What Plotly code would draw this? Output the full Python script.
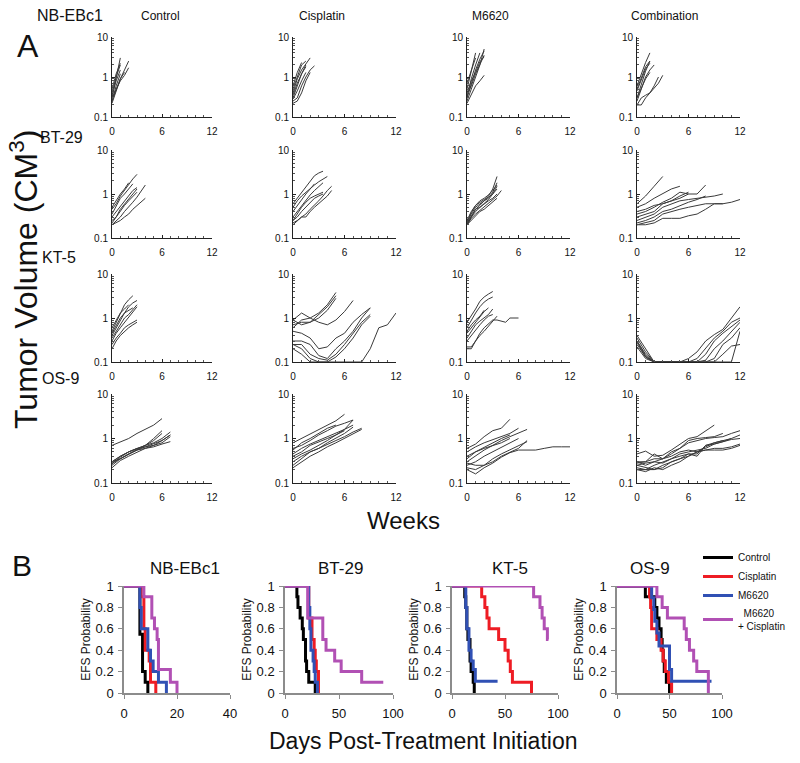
import plotly.graph_objects as go

W, H = 800, 763

# sampling grids (weeks)
half_weeks = [0, 0.5, 1, 1.5, 2, 2.5, 3, 3.5, 4, 4.5, 5, 5.5, 6, 6.5, 7]
weeks = [0, 1, 2, 3, 4, 5, 6, 7, 8, 9, 10, 11, 12]

# ---- Panel A: tumor volumes (cm3) per mouse ----
nb_control = [[0.3, 0.9, 3.0], [0.25, 0.5, 0.9, 1.5, 2.5], [0.3, 0.5, 0.8, 1.1, 1.7],
              [0.4, 1.0, 2.0], [0.25, 0.6, 1.2], [0.5, 1.2, 2.2], [0.35, 0.8, 1.5],
              [0.22, 0.45, 0.9, 1.3]]
nb_cisplatin = [[0.5, 1.0, 2.0, 2.5], [0.4, 0.9, 1.5, 2.2, 3.0], [0.3, 0.6, 1.2, 2.0],
                [0.22, 0.25, 0.4, 0.8, 1.3], [0.25, 0.3, 0.6, 1.0, 1.5, 1.9],
                [0.6, 1.3, 2.3], [0.35, 0.7, 1.2, 1.8], [0.28, 0.45, 0.8, 1.3]]
nb_m6620 = [[0.3, 0.9, 2.0, 4.0], [0.5, 1.5, 4.0], [0.25, 0.5, 1.0, 2.0, 5.0],
            [0.3, 0.7, 1.5, 2.8, 4.5], [0.22, 0.35, 0.6, 0.8, 1.1], [0.4, 0.8, 1.3, 2.4, 3.2],
            [0.7, 1.4, 3.0], [0.35, 0.6, 1.2, 2.0, 3.5]]
nb_combo = [[0.6, 1.2, 2.3, 4.0], [0.5, 1.0, 1.8, 2.5], [0.3, 0.7, 1.4, 2.5],
            [0.25, 0.5, 1.0, 1.5, 2.0], [0.2, 0.2, 0.3, 0.4, 0.5, 0.7, 1.1],
            [0.2, 0.3, 0.35, 0.4, 0.6, 1.0], [0.45, 0.9, 1.6, 2.2], [0.3, 0.55, 0.9, 1.3]]

bt_control = [[0.45, 0.6, 0.9, 1.2, 1.7, 2.2, 2.8], [0.35, 0.55, 0.8, 1.0, 1.3, 1.7],
              [0.2, 0.25, 0.3, 0.4, 0.5, 0.65, 0.85, 1.2, 1.6],
              [0.2, 0.22, 0.25, 0.3, 0.35, 0.45, 0.55, 0.65, 0.8],
              [0.3, 0.4, 0.5, 0.7, 0.9, 1.2, 1.4], [0.25, 0.3, 0.45, 0.6, 0.8, 1.0, 1.3],
              [0.5, 0.7, 1.0, 1.3, 1.8], [0.22, 0.3, 0.4, 0.55, 0.7, 0.9, 1.1]]
bt_cisplatin = [[0.6, 0.8, 1.1, 1.5, 2.0, 2.6, 3.0, 3.3],
                [0.5, 0.7, 0.9, 1.1, 1.3, 1.6, 1.9, 2.2, 2.5],
                [0.25, 0.3, 0.4, 0.5, 0.65, 0.8, 0.9, 1.0],
                [0.22, 0.25, 0.3, 0.35, 0.45, 0.55, 0.7, 0.9, 1.2, 1.5],
                [0.2, 0.25, 0.3, 0.3, 0.4, 0.5, 0.6, 0.75, 0.9, 1.2],
                [0.3, 0.4, 0.55, 0.75, 0.95, 1.2, 1.5, 1.8],
                [0.4, 0.55, 0.75, 1.0, 1.3, 1.7], [0.25, 0.35, 0.5, 0.65, 0.8, 0.9, 1.0, 1.1]]
bt_m6620 = [[0.2, 0.3, 0.45, 0.55, 0.7, 0.9, 1.3, 2.5], [0.22, 0.35, 0.5, 0.6, 0.7, 0.8, 1.1, 1.8],
            [0.2, 0.3, 0.4, 0.5, 0.6, 0.75, 1.0, 1.5], [0.25, 0.4, 0.55, 0.65, 0.75, 0.85, 1.0, 1.3],
            [0.2, 0.28, 0.35, 0.42, 0.5, 0.6, 0.75, 0.9, 1.2], [0.22, 0.32, 0.45, 0.5, 0.6, 0.7, 0.8, 1.0],
            [0.2, 0.25, 0.33, 0.4, 0.45, 0.55, 0.65, 0.8], [0.24, 0.38, 0.55, 0.7, 0.8, 0.95, 1.2, 1.6]]
bt_combo = [[0.6, 0.9, 1.5, 2.5], [0.5, 0.6, 0.8, 1.0, 1.3, 1.5],
            [0.35, 0.4, 0.5, 0.65, 0.8, 1.1, 1.0, 1.0, 1.6],
            [0.25, 0.3, 0.35, 0.5, 0.6, 0.7, 0.75, 0.8, 0.85, 0.9, 1.0],
            [0.2, 0.22, 0.25, 0.35, 0.4, 0.45, 0.5, 0.55, 0.6, 0.6, 0.6, 0.65, 0.75],
            [0.2, 0.2, 0.22, 0.28, 0.28, 0.28, 0.32, 0.35, 0.45, 0.6, 0.6],
            [0.3, 0.35, 0.4, 0.6, 0.7, 0.8, 1.0], [0.22, 0.25, 0.3, 0.4, 0.45, 0.55, 0.65, 0.75, 0.9],
            [0.4, 0.45, 0.55, 0.6, 0.7, 0.9, 1.1]]

kt_control = [[0.5, 0.8, 1.3, 2.0, 2.6, 3.2], [0.4, 0.6, 0.9, 1.3, 1.8, 2.2, 2.5],
              [0.3, 0.45, 0.6, 0.8, 1.0, 1.4, 1.8], [0.25, 0.35, 0.45, 0.6, 0.7, 0.8, 0.9],
              [0.6, 0.9, 1.3, 1.6, 2.0], [0.35, 0.5, 0.7, 1.0, 1.2, 1.6, 2.0],
              [0.45, 0.7, 1.0, 1.3, 1.5, 1.7], [0.2, 0.3, 0.4, 0.5, 0.6, 0.7, 0.8]]
kt_cisplatin = [[0.9, 1.3, 1.0, 1.3, 2.0, 3.8], [0.7, 0.8, 0.8, 1.2, 1.8, 3.2],
                [0.9, 0.7, 0.8, 1.0, 1.5, 2.8], [0.6, 0.9, 1.0, 0.8, 0.7, 0.9, 1.4, 2.5],
                [0.5, 0.45, 0.35, 0.2, 0.22, 0.35, 0.45, 0.8, 1.2, 1.7],
                [0.3, 0.3, 0.25, 0.14, 0.12, 0.2, 0.3, 0.5, 1.0, 1.7],
                [0.25, 0.25, 0.15, 0.12, 0.11, 0.15, 0.25, 0.45, 0.8, 1.2],
                [0.25, 0.2, 0.12, 0.1, 0.1, 0.13, 0.2, 0.35, 0.7, 1.1],
                [0.2, 0.15, 0.1, 0.1, 0.1, 0.1, 0.1, 0.1, 0.1, 0.2, 0.6, 0.7, 1.3]]
kt_m6620 = [[0.8, 1.1, 1.6, 2.4, 3.0, 3.5, 4.0], [0.6, 0.9, 1.3, 1.8, 2.3, 2.7, 3.0],
            [0.45, 0.6, 0.8, 1.1, 1.4, 1.7], [0.3, 0.4, 0.55, 0.7, 0.9, 1.1, 1.2],
            [0.2, 0.2, 0.3, 0.45, 0.6, 0.75, 0.9, 0.9, 0.85, 0.8, 1.0, 1.0, 1.0],
            [0.22, 0.22, 0.3, 0.4, 0.5, 0.65, 0.8, 1.1], [0.5, 0.7, 0.9, 1.1, 1.5],
            [0.35, 0.5, 0.7, 0.85, 1.0, 1.2, 1.6]]
kt_combo = [[0.4, 0.2, 0.1, 0.1, 0.1, 0.1, 0.12, 0.17, 0.3, 0.42, 0.55, 1.0, 1.8],
            [0.35, 0.17, 0.1, 0.1, 0.1, 0.1, 0.1, 0.12, 0.2, 0.35, 0.5, 0.8, 1.0],
            [0.3, 0.15, 0.1, 0.1, 0.1, 0.1, 0.1, 0.1, 0.15, 0.3, 0.45, 0.65, 0.9],
            [0.25, 0.13, 0.1, 0.1, 0.1, 0.1, 0.1, 0.1, 0.11, 0.2, 0.3, 0.5, 0.8],
            [0.3, 0.14, 0.1, 0.1, 0.1, 0.1, 0.1, 0.1, 0.1, 0.12, 0.25, 0.35, 0.6],
            [0.22, 0.12, 0.1, 0.1, 0.1, 0.1, 0.1, 0.1, 0.1, 0.1, 0.15, 0.23, 0.25],
            [0.28, 0.13, 0.1, 0.1, 0.1, 0.1, 0.1, 0.1, 0.1, 0.1, 0.1, 0.1, 0.5]]

os_control = [[0.7, 0.85, 1.0, 1.3, 1.6, 2.0, 2.8], [0.3, 0.4, 0.5, 0.6, 0.7, 0.9, 1.3],
              [0.28, 0.35, 0.45, 0.55, 0.65, 0.75, 0.9, 1.2],
              [0.25, 0.35, 0.45, 0.55, 0.6, 0.65, 0.75, 0.85],
              [0.3, 0.4, 0.5, 0.6, 0.7, 0.8, 1.0, 1.4], [0.22, 0.32, 0.4, 0.5, 0.6, 0.7, 0.8, 1.1],
              [0.27, 0.38, 0.5, 0.6, 0.65, 0.7, 0.9, 1.2], [0.3, 0.35, 0.45, 0.55, 0.7, 1.0, 1.5]]
os_cisplatin = [[0.8, 1.0, 1.3, 1.6, 2.0, 2.5, 3.5], [0.55, 0.8, 1.0, 1.3, 1.7, 2.0],
                [0.6, 0.7, 0.9, 1.2, 1.5, 1.9, 2.2, 2.6], [0.35, 0.45, 0.55, 0.7, 0.9, 1.2, 1.6, 2.0],
                [0.3, 0.4, 0.5, 0.6, 0.8, 1.0, 1.3, 1.8],
                [0.25, 0.35, 0.5, 0.6, 0.75, 0.9, 1.1, 1.4, 1.7],
                [0.22, 0.3, 0.4, 0.5, 0.65, 0.8, 1.0, 1.3, 1.6],
                [0.4, 0.5, 0.7, 0.85, 1.0, 1.2, 1.5], [0.45, 0.6, 0.75, 0.9, 1.1, 1.3, 1.6, 2.6]]
os_m6620 = [[0.6, 0.75, 1.1, 1.5, 1.7, 2.7], [0.5, 0.65, 0.8, 0.95, 1.1, 1.3, 1.7],
            [0.3, 0.4, 0.55, 0.7, 0.9, 1.1, 1.3, 1.6], [0.25, 0.3, 0.4, 0.5, 0.65, 0.8, 1.0],
            [0.22, 0.2, 0.25, 0.3, 0.4, 0.5, 0.6, 0.9],
            [0.2, 0.16, 0.22, 0.28, 0.38, 0.48, 0.55, 0.55, 0.55, 0.6, 0.65, 0.65, 0.65],
            [0.35, 0.5, 0.6, 0.7, 0.8, 1.0], [0.28, 0.25, 0.25, 0.35, 0.45, 0.55, 0.7, 0.85],
            [0.4, 0.5, 0.65, 0.8, 1.0, 1.2]]
os_combo = [[0.45, 0.52, 0.4, 0.42, 0.55, 0.75, 1.0, 1.1, 1.5, 2.0],
            [0.3, 0.3, 0.35, 0.35, 0.5, 0.6, 0.8, 0.9, 1.0, 1.05, 1.1, 1.3, 1.5],
            [0.25, 0.28, 0.3, 0.28, 0.35, 0.45, 0.5, 0.55, 0.6, 0.75, 0.85, 0.95, 1.0],
            [0.22, 0.2, 0.25, 0.3, 0.35, 0.4, 0.45, 0.45, 0.7, 0.8, 0.9, 1.0, 1.2],
            [0.2, 0.18, 0.22, 0.2, 0.25, 0.3, 0.4, 0.5, 0.55, 0.6, 0.6, 0.65, 0.75],
            [0.25, 0.22, 0.2, 0.25, 0.3, 0.35, 0.45, 0.4, 0.7, 0.75, 0.85, 1.0],
            [0.3, 0.25, 0.3, 0.35, 0.45, 0.6, 0.9, 1.0, 1.05, 1.1, 1.3],
            [0.2, 0.2, 0.2, 0.22, 0.3, 0.35, 0.4, 0.5, 0.55, 0.55, 0.55, 0.6, 0.7],
            [0.28, 0.3, 0.45, 0.35, 0.4, 0.5, 0.55, 0.5, 0.65, 0.8, 0.9]]

models = ["NB-EBc1", "BT-29", "KT-5", "OS-9"]
treatments = ["Control", "Cisplatin", "M6620", "Combination"]
grid = [
    [(nb_control, half_weeks), (nb_cisplatin, half_weeks), (nb_m6620, half_weeks), (nb_combo, half_weeks)],
    [(bt_control, half_weeks), (bt_cisplatin, half_weeks), (bt_m6620, half_weeks), (bt_combo, weeks)],
    [(kt_control, half_weeks), (kt_cisplatin, weeks), (kt_m6620, half_weeks), (kt_combo, weeks)],
    [(os_control, weeks), (os_cisplatin, weeks), (os_m6620, weeks), (os_combo, weeks)],
]

# ---- Panel B: Kaplan-Meier EFS (days, probability) ----
arms = ["Control", "Cisplatin", "M6620", "  M6620<br>+ Cisplatin"]
arm_colors = ["#000000", "#ee1c24", "#3050b4", "#b150b4"]
km = {
    "NB-EBc1": [
        ([0, 6, 7, 8, 9], [1, 0.55, 0.2, 0.1, 0]),
        ([0, 6.5, 7.5, 8, 9.5, 10, 12], [1, 0.9, 0.6, 0.4, 0.3, 0.1, 0]),
        ([0, 6, 6.5, 9, 10, 11, 13, 16], [1, 0.8, 0.6, 0.4, 0.3, 0.2, 0.1, 0]),
        ([0, 7.5, 10.5, 11.5, 12.5, 13, 17.5, 20], [1, 0.9, 0.7, 0.6, 0.5, 0.22, 0.1, 0]),
    ],
    "BT-29": [
        ([0, 11, 12, 14, 16, 17, 19, 20, 22, 28], [1, 0.9, 0.8, 0.7, 0.6, 0.5, 0.3, 0.2, 0.1, 0]),
        ([0, 22, 25, 27, 28, 29, 31], [1, 0.7, 0.5, 0.4, 0.3, 0.2, 0]),
        ([0, 22, 23, 24, 26, 27, 28, 30], [1, 0.8, 0.6, 0.4, 0.3, 0.2, 0.1, 0]),
        ([0, 21, 35, 38, 46, 52, 71, 91], [1, 0.7, 0.5, 0.4, 0.3, 0.2, 0.1, 0.1]),
    ],
    "KT-5": [
        ([0, 12, 13, 14, 15, 17, 18, 20, 21], [1, 0.9, 0.8, 0.6, 0.5, 0.3, 0.2, 0.1, 0]),
        ([0, 28, 31, 33, 35, 44, 50, 53, 55, 57, 75], [1, 0.9, 0.8, 0.7, 0.6, 0.5, 0.4, 0.3, 0.2, 0.1, 0]),
        ([0, 13, 14, 16, 18, 20, 22, 43], [1, 0.8, 0.6, 0.4, 0.3, 0.22, 0.11, 0.11]),
        ([0, 77, 83, 85, 87, 90, 91], [1, 0.9, 0.8, 0.7, 0.6, 0.5, 0.5]),
    ],
    "OS-9": [
        ([0, 27, 36, 38, 40, 42, 43, 44, 45, 47, 50], [1, 0.9, 0.8, 0.7, 0.6, 0.5, 0.4, 0.3, 0.2, 0.1, 0]),
        ([0, 31, 32, 33, 38, 42, 44, 46, 49, 52], [1, 0.9, 0.8, 0.6, 0.5, 0.4, 0.3, 0.2, 0.1, 0]),
        ([0, 33, 35, 36, 38, 40, 50, 52, 90], [1, 0.89, 0.78, 0.67, 0.56, 0.44, 0.22, 0.11, 0.11]),
        ([0, 38, 43, 48, 64, 66, 69, 73, 76, 79, 87], [1, 0.9, 0.8, 0.7, 0.6, 0.5, 0.4, 0.3, 0.2, 0.2, 0]),
    ],
}

FONT = "Liberation Sans, Arial, sans-serif"


def fx(px):
    return px / W


def fy(py):
    return 1 - py / H


col_px = [(112, 212), (293, 396), (467, 570), (637, 740)]
row_px = [(37, 117), (150, 238), (274, 362), (394, 483)]
minor_log = [0.2, 0.3, 0.4, 0.5, 0.6, 0.7, 0.8, 0.9, 2, 3, 4, 5, 6, 7, 8, 9]

fig = go.Figure()
layout = {}
n = 0
for r in range(4):
    for c in range(4):
        n += 1
        xa = "x" if n == 1 else "x%d" % n
        ya = "y" if n == 1 else "y%d" % n
        curves, xs = grid[r][c]
        for cv in curves:
            fig.add_trace(go.Scatter(x=xs[:len(cv)], y=cv, mode="lines", xaxis=xa, yaxis=ya,
                                     line=dict(color="#3a3a3a", width=1), showlegend=False,
                                     hoverinfo="skip"))
        x0, x1 = col_px[c]
        y0, y1 = row_px[r]
        layout["xaxis" if n == 1 else "xaxis%d" % n] = dict(
            domain=[fx(x0), fx(x1)], anchor=ya, range=[0, 12], tickvals=[0, 6, 12],
            showline=True, linecolor="#222", linewidth=1, ticks="inside", ticklen=3,
            tickcolor="#222", minor=dict(ticks="inside", ticklen=2, dtick=1, tickcolor="#555"),
            showgrid=False, zeroline=False, ticklabelstandoff=5,
            tickfont=dict(size=10, family=FONT, color="#111"))
        layout["yaxis" if n == 1 else "yaxis%d" % n] = dict(
            domain=[fy(y1), fy(y0)], anchor=xa, type="log", range=[-1, 1],
            tickvals=[0.1, 1, 10], ticktext=["0.1", "1", "10"],
            showline=True, linecolor="#222", linewidth=1, ticks="inside", ticklen=3,
            tickcolor="#222", minor=dict(ticks="inside", ticklen=2, tickvals=minor_log, tickcolor="#555"),
            showgrid=False, zeroline=False, ticklabelstandoff=1,
            tickfont=dict(size=10, family=FONT, color="#111"))

b_cols = [(124, 230, 40, [0, 20, 40]), (285, 393, 100, [0, 50, 100]),
          (452, 558, 100, [0, 50, 100]), (617, 722, 100, [0, 50, 100])]
b_title_x = [185, 340, 510, 650]
b_top, b_bot = 586, 693
for k, name in enumerate(models):
    n += 1
    xa, ya = "x%d" % n, "y%d" % n
    for a, (t, s) in enumerate(km[name]):
        fig.add_trace(go.Scatter(x=t, y=s, mode="lines", xaxis=xa, yaxis=ya,
                                 line=dict(color=arm_colors[a], width=3, shape="hv"),
                                 name=arms[a], showlegend=(k == 0), hoverinfo="skip"))
    x0, x1, xmax, tv = b_cols[k]
    layout["xaxis%d" % n] = dict(
        domain=[fx(x0), fx(x1)], anchor=ya, range=[0, xmax], tickvals=tv,
        showline=True, linecolor="#8c8c8c", linewidth=1.5, ticks="outside", ticklen=4,
        tickcolor="#8c8c8c", showgrid=False, zeroline=False, ticklabelstandoff=4,
        tickfont=dict(size=13, family=FONT, color="#111"))
    layout["yaxis%d" % n] = dict(
        domain=[fy(b_bot), fy(b_top)], anchor=xa, range=[0, 1.0], tickvals=[0, 0.2, 0.4, 0.6, 0.8, 1],
        ticktext=["0", "0.2", "0.4", "0.6", "0.8", "1"],
        showline=True, linecolor="#8c8c8c", linewidth=1.5, ticks="outside", ticklen=4,
        tickcolor="#8c8c8c", showgrid=False, zeroline=False, ticklabelstandoff=2,
        tickfont=dict(size=13, family=FONT, color="#111"),
        title=dict(text="EFS Probability", font=dict(size=12, family=FONT, color="#111"), standoff=2))

annotations = []


def text(x, y, s, size, **kw):
    annotations.append(dict(x=fx(x), y=fy(y), xref="paper", yref="paper", text=s, showarrow=False,
                            xanchor="center", yanchor="middle",
                            font=dict(size=size, family=FONT, color="#111"), **kw))


text(28, 46, "A", 32)
text(22, 565, "B", 30)
for c, t in enumerate(treatments):
    text([160, 322, 490, 664][c], 16, t, 12)
for r, (m, x, y) in enumerate([("NB-EBc1", 70, 15), ("BT-29", 61, 138), ("KT-5", 59, 258), ("OS-9", 60, 378)]):
    text(x, y, m, 16)
text(24, 280, "Tumor Volume (CM<sup>3</sup>)", 32, textangle=-90)
text(403, 520, "Weeks", 24)
text(423, 741, "Days Post-Treatment Initiation", 23)
for k, name in enumerate(models):
    text(b_title_x[k], 568, name, 17)

layout.update(
    width=W, height=H, margin=dict(l=0, r=0, t=0, b=0, autoexpand=False),
    plot_bgcolor="white", paper_bgcolor="white", annotations=annotations,
    legend=dict(x=fx(698), y=fy(543), xanchor="left", yanchor="top", bgcolor="rgba(0,0,0,0)",
                font=dict(size=10, family=FONT, color="#111"), tracegroupgap=0, itemwidth=30),
)
fig.update_layout(**layout)
fig.write_html("out.html", config={"displayModeBar": False},
               post_script="document.body.style.margin='0';")
